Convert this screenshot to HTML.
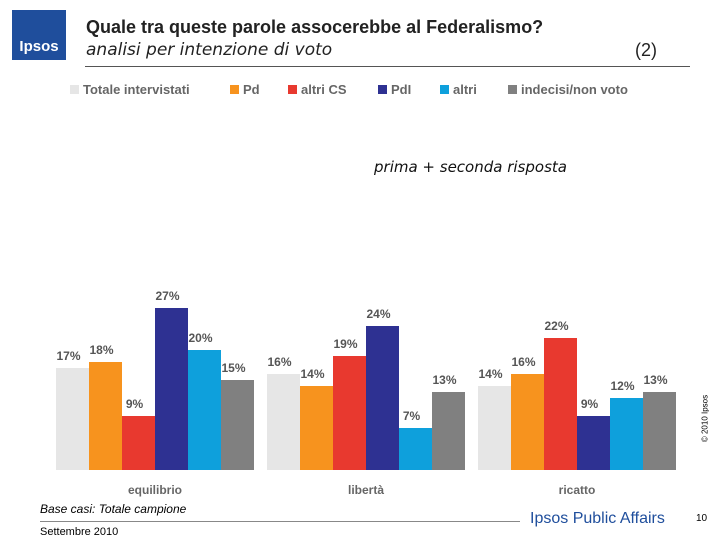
<!DOCTYPE html>
<html><head><meta charset="utf-8"><style>
body{margin:0;width:720px;height:540px;background:#fff;font-family:"Liberation Sans",sans-serif;position:relative;overflow:hidden}
.a{position:absolute}
</style></head><body>
<div class="a" style="left:12px;top:10px;width:54px;height:50px;background:#1f4e9c;color:#fff;font-weight:bold;font-size:15px;text-align:center;line-height:74px">Ipsos</div>
<div class="a" style="left:86px;top:17px;font-size:18px;font-weight:bold;color:#222">Quale tra queste parole assocerebbe al Federalismo?</div>
<div class="a" style="left:86px;top:40px;font-size:18px;font-style:italic;color:#222;font-family:'DejaVu Sans',sans-serif;font-size:17px">analisi per intenzione di voto</div>
<div class="a" style="left:635px;top:40px;font-size:18px;color:#222">(2)</div>
<div class="a" style="left:85px;top:66px;width:605px;height:1px;background:#555"></div>
<div class="a" style="left:374px;top:158px;font-size:15px;font-style:italic;font-family:'DejaVu Sans',sans-serif;color:#111">prima + seconda risposta</div>
<svg class="a" style="left:0;top:0" width="720" height="540" id="svg"></svg>
<div class="a" style="left:40px;top:502px;font-size:12px;font-style:italic">Base casi: Totale campione</div>
<div class="a" style="left:40px;top:521px;width:480px;height:1px;background:#888"></div>
<div class="a" style="left:40px;top:526px;font-size:11px">Settembre 2010</div>
<div class="a" style="left:530px;top:510px;font-size:16px;color:#1f4e9c">Ipsos Public Affairs</div>
<div class="a" style="left:696px;top:513px;font-size:10px">10</div>
<div class="a" style="left:660px;top:414px;font-size:8px;transform:rotate(-90deg);width:90px;text-align:center">© 2010 Ipsos</div>
<script>
const categories=["equilibrio","libertà","ricatto"];
const seriesNames=["Totale intervistati","Pd","altri CS","PdI","altri","indecisi/non voto"];
const seriesColors=["#e6e6e6","#f7931e","#e8392f","#2e3192","#0ea0dc","#808080"];
const values=[[17,18,9,27,20,15],[16,14,19,24,7,13],[14,16,22,9,12,13]];
const svg=document.getElementById('svg');const NS="http://www.w3.org/2000/svg";
const base=470,ppu=6,groupX=[56,267,478],bw=33;
const y=v=>base-v*ppu;
function mk(t,a){const e=document.createElementNS(NS,t);for(const k in a)e.setAttribute(k,a[k]);svg.appendChild(e);return e;}
const legX=[70,230,288,378,440,508];
seriesNames.forEach((n,i)=>{
 const r=mk('rect',{x:legX[i],y:85,width:9,height:9,fill:seriesColors[i]});
 
 const t=mk('text',{x:legX[i]+13,y:94,'font-size':13,'font-weight':'bold',fill:'#666','font-family':'Liberation Sans,sans-serif'});
 t.textContent=n;
});
categories.forEach((c,g)=>{
 values[g].forEach((v,i)=>{
  const x=groupX[g]+i*bw;
  const r=mk('rect',{x:x,y:y(v),width:bw,height:v*ppu,fill:seriesColors[i]});
  
  const t=mk('text',{x:x+bw/2-4,y:y(v)-8,'font-size':12,'font-weight':'bold',fill:'#555','text-anchor':'middle','font-family':'Liberation Sans,sans-serif'});
  t.textContent=v+'%';
 });
 const t=mk('text',{x:groupX[g]+bw*3,y:494,'font-size':12,'font-weight':'bold',fill:'#666','text-anchor':'middle','font-family':'Liberation Sans,sans-serif'});
 t.textContent=c;
});
</script>
</body></html>
